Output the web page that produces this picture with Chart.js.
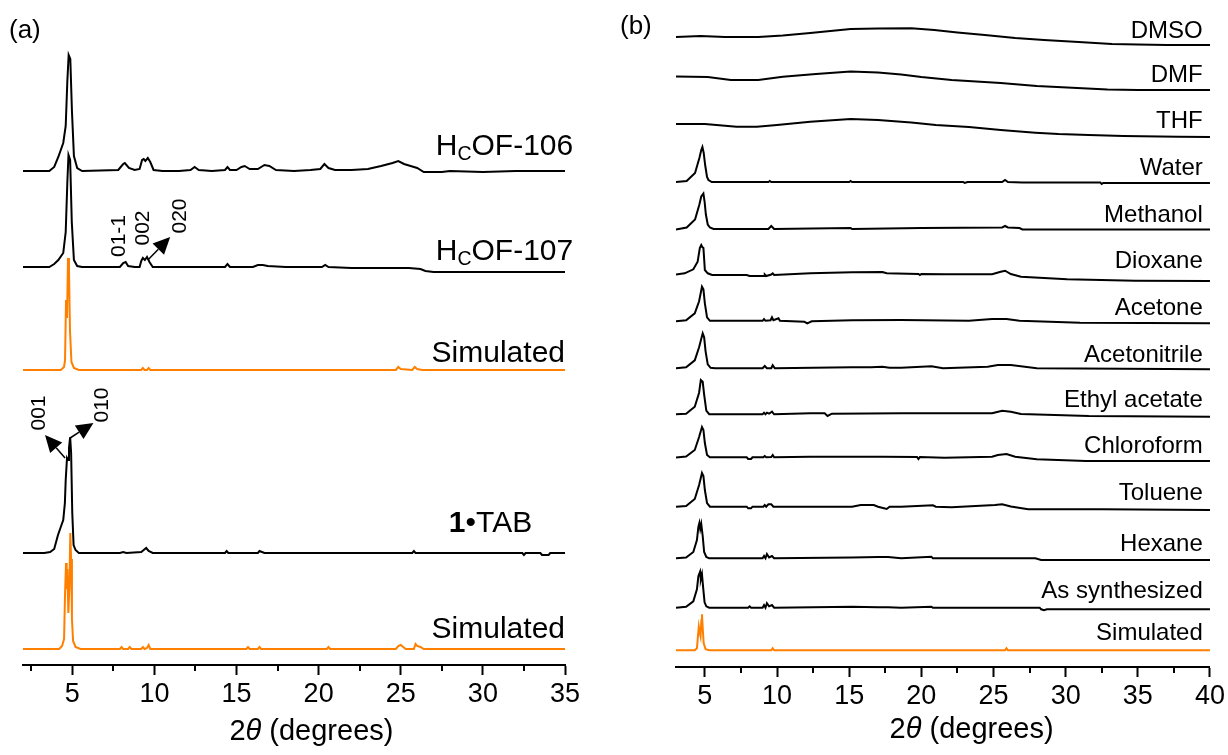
<!DOCTYPE html>
<html>
<head>
<meta charset="utf-8">
<title>PXRD patterns</title>
<script src="https://cdn.jsdelivr.net/npm/chart.js@4.4.1/dist/chart.umd.min.js"></script>
<style>
    body { margin: 0; background: #fff; }
    #wrap { position: relative; width: 1228px; height: 755px; }
    .panel { position: absolute; top: 0; }
    #panelA { left: 0; }
    #panelB { left: 600px; }
</style>
</head>
<body>
<div id="wrap">
    <div class="panel" id="panelA"><canvas id="chartA" width="600" height="755"></canvas></div>
    <div class="panel" id="panelB"><canvas id="chartB" width="628" height="755"></canvas></div>
</div>
<script>
// ---- panel (a): 2theta (deg) / intensity (a.u.) ----
const namesA = ['HCOF-106', 'HCOF-107', 'Simulated', '1•TAB', 'Simulated'];
const colorsA = ['#000', '#000', '#ff8000', '#000', '#ff8000'];
const offsetsA = [494, 393, 295, 112, 16];

const hcof106 = [[2,0],[3.6,0],[3.9,4],[4.15,14],[4.45,28],[4.6,45],[4.7,90],[4.78,116],[4.88,112],[4.98,60],[5.1,15],[5.3,3],[5.6,0],
    [7.8,1],[8.1,7],[8.2,8],[8.45,3],[8.8,1],[9.1,2],[9.25,11],[9.35,12],[9.45,10],[9.6,13],[9.75,9],[9.95,1],[10.5,0],[11.5,0],
    [12.2,1],[12.45,4],[12.7,1],[13.5,0],[14.3,1],[14.45,4],[14.6,1],[15.0,1],[15.3,4],[15.5,5],[15.8,2],[16.3,2],[16.7,6],[17.0,5],
    [17.4,1],[18.5,0],[19.5,1],[20.1,2],[20.35,7],[20.6,3],[21.0,1],[22.0,1],[23.0,2],[23.8,5],[24.5,8],[24.85,10],[25.2,7],[25.6,5],
    [26.0,3],[26.4,-1],[27.5,-1],[28,0],[30,-1],[32,0],[35,0]];
const hcof107 = [[2,5],[3.6,5],[3.9,8],[4.15,12],[4.45,19],[4.6,40],[4.7,90],[4.77,117],[4.87,112],[4.97,50],[5.1,12],[5.3,6],[5.6,5],
    [7.9,5],[8.1,9],[8.25,10],[8.4,6],[8.8,5],[9.1,5],[9.2,11],[9.3,14],[9.42,12],[9.55,15],[9.7,10],[9.9,5],[12,5],[14.3,5],[14.45,8],
    [14.6,5],[16.0,5],[16.3,7],[16.6,7],[16.9,6],[18,5],[20.2,5],[20.4,7],[20.6,5],[22,4],[24,4],[25.5,4],[26.2,3],[26.5,1],[27,0],[35,0]];
const simTop = [[2,0],[4.3,0],[4.5,3],[4.56,10],[4.62,70],[4.68,52],[4.74,112],[4.8,100],[4.86,40],[4.95,8],[5.1,2],[5.4,0],
    [9.2,0],[9.3,2],[9.4,0],[9.55,0],[9.65,2],[9.75,0],[24.7,0],[24.85,3],[25.0,1],[25.7,0],[25.85,3],[26.0,1],[26.3,0],[35,0]];
const tab1 = [[2,0],[3.3,0],[3.65,1],[3.9,4],[4.13,18],[4.3,26],[4.45,33],[4.55,50],[4.6,73],[4.68,95],[4.75,93],[4.8,105],[4.87,116],
    [4.93,100],[5.0,40],[5.08,8],[5.2,3],[5.4,0],[7.9,0],[8.1,1],[8.3,0],[9.2,1],[9.35,3],[9.5,5],[9.65,2],[9.9,0],[14.3,0],[14.4,2],
    [14.5,0],[16.3,0],[16.4,2],[16.55,1],[16.7,0],[25.7,0],[25.8,2],[25.9,0],[32.4,0],[32.5,-2],[32.6,0],[33.5,0],[33.6,-2],[34,-2],[34.1,0],[35,0]];
const simBottom = [[2,0],[4.2,0],[4.38,3],[4.5,10],[4.56,55],[4.62,86],[4.66,60],[4.7,80],[4.76,36],[4.82,60],[4.88,116],[4.93,90],
    [4.98,30],[5.05,8],[5.2,2],[5.5,0],[7.9,0],[8.0,2],[8.1,0],[8.4,0],[8.5,2],[8.6,0],[9.2,0],[9.3,2],[9.4,0],[9.55,1],[9.65,4],[9.75,0],
    [15.6,0],[15.7,2],[15.8,0],[16.3,0],[16.4,2],[16.5,0],[20.5,0],[20.6,2],[20.7,0],[24.7,0],[24.85,3],[25.0,4],[25.15,2],[25.3,0],
    [25.8,0],[25.9,5],[26.0,3],[26.2,2],[26.4,0],[35,0]];
const seriesA = [hcof106, hcof107, simTop, tab1, simBottom];

const majorA = [5, 10, 15, 20, 25, 30, 35];
const minorA = [2.5, 7.5, 12.5, 17.5, 22.5, 27.5, 32.5];

// trace captions (right edge in 2theta, baseline in intensity)
const captionsA = [
    [{ t: 'H' }, { t: 'C', sub: true }, { t: 'OF-106' }],
    [{ t: 'H' }, { t: 'C', sub: true }, { t: 'OF-107' }],
    [{ t: 'Simulated' }],
    [{ t: '1', bold: true }, { t: '•TAB' }],
    [{ t: 'Simulated' }]
];
const captionXA = [35.5, 35.5, 35.0, 33.0, 35.0];
const captionYA = [510, 405, 303, 133, 27];

// Miller indices and their arrows
const hklText = ['01-1', '002', '020', '001', '010'];
const hklX = [7.85, 9.29, 11.57, 2.98, 6.8];
const hklY = [429, 437, 449, 252, 260];
const arrowsA = [
    [[9.6, 405], [10.96, 428]],
    [[4.56, 207], [3.34, 230]],
    [[4.87, 227], [6.29, 242]]
];

// ---- panel (b): stability in solvents ----
const namesB = ['DMSO', 'DMF', 'THF', 'Water', 'Methanol', 'Dioxane', 'Acetone', 'Acetonitrile',
    'Ethyl acetate', 'Chloroform', 'Toluene', 'Hexane', 'As synthesized', 'Simulated'];
const offsetsB = [622, 577, 530, 484, 437.5, 386, 343.7, 297.7, 250.3, 206, 157, 107, 57.7, 16.7];
const captionYB = [629, 585, 539, 492, 445, 399, 352, 305, 260, 214, 167, 116, 69, 27];

const dmso = [[3,8],[4.7,9],[6.4,8],[8.7,8],[10.4,9.5],[12.3,12],[15.1,16],[17,16.5],[19.3,16.7],[20.9,15],[22.5,12.5],[24.4,10],
    [26.5,7],[28.5,5],[30.9,3],[33.2,1],[35,0.5],[37,0],[40,0]];
const dmf = [[3,13.5],[5.2,13],[6.8,10],[8.7,10],[10.4,13.3],[12.7,16],[15.1,18.5],[17,17.5],[18.6,15.5],[20,13],[22.1,10],[25.5,7],
    [28,4],[30.1,2.5],[32.9,0.5],[35,0],[40,0]];
const thf = [[3,13],[5,13],[7.2,10.3],[8.6,10.3],[10,12],[12.3,15.3],[15.1,18],[17,17],[18.6,15.3],[19.3,14.5],[21,12],[23.3,10],
    [25.5,7],[27.9,4.3],[29.5,3],[31.6,2],[34,1],[37.8,0.3],[40,0]];
const water = [[3,1],[3.74,2],[4.32,10],[4.62,25],[4.75,33],[4.83,36],[4.92,30],[5.02,18],[5.15,6],[5.25,3],[5.48,1],[9.4,1],[9.5,2],
    [9.6,1],[15.0,1],[15.1,2],[15.2,1],[22.9,1],[23.0,0],[23.2,1],[25.6,1],[25.8,3],[26.0,1],[27,0.5],[32.4,0.5],[32.5,-1],[32.6,0],[40,0]];
const methanol = [[3,0],[3.74,2],[4.32,10],[4.62,25],[4.75,33],[4.9,36],[4.98,28],[5.07,15],[5.2,5],[5.35,2],[5.6,0.5],[9.4,0.5],
    [9.6,3.5],[9.8,0.5],[15.1,1.5],[15.2,0.5],[20,1.5],[25.6,2],[25.8,3.5],[26.0,2],[26.8,1.5],[27,0],[40,0]];
const dioxane = [[3,6.5],[3.6,7.7],[4.2,11.7],[4.5,19.3],[4.65,33],[4.75,36],[4.82,34],[4.9,33],[5.0,11],[5.2,7.7],[5.5,6],[7.9,6],
    [8.1,5],[9.1,5],[9.15,6.5],[9.25,5],[9.6,6.5],[9.7,7.7],[9.8,6],[12.3,7.7],[15.2,8.7],[17.3,9],[17.6,7.7],[19.8,7],[19.9,6],[20,7],
    [21.6,6.7],[24.9,6.7],[25.5,9.3],[25.8,10.3],[26.2,7],[26.9,4.3],[30.1,1.7],[34.8,0.3],[40,0]];
const acetone = [[3,2],[3.7,3],[4.3,10],[4.6,22],[4.8,36.6],[4.9,34],[5.0,20],[5.15,6],[5.35,2.5],[9.0,2.5],[9.1,4.3],[9.2,2.5],
    [9.55,3],[9.65,6],[9.75,3],[10.1,5],[10.2,2.5],[11.9,1.5],[12.1,0],[12.4,2],[15.2,3],[18.6,3.3],[23.3,2.6],[24.9,4.3],[25.9,4.3],
    [26.8,2.6],[31,0.6],[40,0]];
const acetonitrile = [[3,1],[3.7,2],[4.3,9],[4.6,22],[4.85,36],[4.95,32],[5.05,18],[5.2,5],[5.4,1.5],[5.7,1],[9.0,1],[9.15,3.3],
    [9.3,1],[9.6,1],[9.7,4],[9.85,1],[15.2,2],[16.5,2],[17.3,2.5],[17.8,1.5],[18.6,1.6],[20.7,3],[21.5,1],[24.6,2.6],[25.3,4.3],
    [26.2,4.3],[28,1],[40,0]];
const ethylAcetate = [[3,2.4],[3.7,3],[4.3,10],[4.6,24],[4.72,36.7],[4.85,35],[4.95,22],[5.1,6],[5.3,2.5],[9.0,2.4],[9.1,4],[9.2,2.4],
    [9.3,4],[9.45,3],[9.65,5],[9.8,2.4],[12.3,3.4],[13.3,3.4],[13.5,0.7],[13.8,3],[18.6,3.4],[24.9,3.4],[25.6,6],[26.2,5],[26.9,2.7],
    [31.6,0.7],[40,0]];
const chloroform = [[3,3.5],[3.7,4.5],[4.3,11],[4.6,24],[4.8,34],[4.9,31],[5.0,18],[5.15,6],[5.35,3.7],[7.9,3.7],[8.0,2],[8.2,2],
    [8.3,3.7],[9.05,3.7],[9.15,5],[9.25,3.7],[9.6,4],[9.7,6],[9.8,3.7],[12.3,4.3],[15.2,4.3],[16.5,4.3],[17.3,4.3],[19.7,4],[19.8,2],
    [19.9,4],[21.6,3.3],[24.9,4.3],[25.3,6],[25.9,7],[26.5,4.3],[28,1.7],[31.4,0],[40,0]];
const toluene = [[3,3.3],[3.7,4],[4.3,11],[4.6,25],[4.8,37],[4.9,34],[5.0,20],[5.15,7],[5.35,3.3],[7.9,3.3],[8.0,1.7],[8.2,1.7],
    [8.3,3.3],[9.05,3.3],[9.15,5],[9.25,3.3],[9.4,5.7],[9.6,5.7],[9.75,3.3],[15.2,3.3],[15.8,5],[16.7,5],[17.0,3.3],[17.6,1],[17.8,3.3],
    [18.6,3.3],[20.8,4.7],[21,3.3],[22.1,2.7],[25.1,5],[25.6,5.7],[26.2,3.5],[27.4,0.7],[32.5,0.7],[35,0.5],[40,0]];
const hexane = [[3,1.7],[3.7,2.5],[4.2,8],[4.45,20],[4.55,33],[4.62,37],[4.68,31],[4.75,36],[4.85,24],[4.95,8],[5.1,3],[5.3,1.7],
    [9.0,1.7],[9.1,4],[9.2,1.7],[9.3,6],[9.45,2.5],[9.65,4],[9.8,1.7],[15.2,2.5],[17.0,3],[17.7,3],[18.6,1.7],[20.7,3.3],[20.8,1.7],
    [27.9,1.7],[28.3,0],[40,0]];
const asSynth = [[3,1.6],[3.7,2.5],[4.2,8],[4.45,20],[4.55,33],[4.67,37.6],[4.72,30],[4.8,35],[4.88,22],[4.98,7],[5.1,3],[5.3,1.6],
    [8.0,1.6],[8.1,3],[8.2,1.6],[9.0,1.6],[9.1,4.3],[9.2,1.6],[9.3,6],[9.45,3],[9.65,4.3],[9.8,1.6],[15.2,2.6],[17.0,2],[17.7,2],
    [18.6,1.6],[20.7,2.6],[20.8,1.6],[28.2,1.6],[28.3,0],[28.5,-1],[28.7,0],[40,0]];
const simB = [[3,0],[4.3,0],[4.45,2],[4.52,14],[4.58,23.6],[4.64,18],[4.7,14],[4.76,30],[4.8,36],[4.86,20],[4.92,7],[5.05,1],[5.3,0],
    [9.6,0],[9.7,2],[9.8,0],[25.8,0],[25.9,2],[26.0,0],[40,0]];
const seriesB = [dmso, dmf, thf, water, methanol, dioxane, acetone, acetonitrile, ethylAcetate, chloroform, toluene, hexane, asSynth, simB];

const majorB = [5, 10, 15, 20, 25, 30, 35, 40];
const minorB = [7.5, 12.5, 17.5, 22.5, 27.5, 32.5, 37.5];

const FONT = '"Liberation Sans", Arial, sans-serif';
const axisTitle = [{ t: '2' }, { t: 'θ', italic: true }, { t: ' (degrees)' }];

function runFont(r, size) {
    const s = r.sub ? size * 0.65 : size;
    return (r.italic ? 'italic ' : '') + (r.bold ? 'bold ' : '') + s + 'px ' + FONT;
}

// draw a line of mixed-style text (subscript / bold / italic pieces)
function drawRuns(ctx, runs, x, yBase, size, align) {
    let total = 0;
    runs.forEach(r => { ctx.font = runFont(r, size); total += ctx.measureText(r.t).width; });
    let cx = align === 'right' ? x - total : align === 'center' ? x - total / 2 : x;
    ctx.textAlign = 'left';
    ctx.textBaseline = 'alphabetic';
    ctx.fillStyle = '#000';
    runs.forEach(r => {
        ctx.font = runFont(r, size);
        ctx.fillText(r.t, cx, yBase + (r.sub ? size * 0.17 : 0));
        cx += ctx.measureText(r.t).width;
    });
}

function drawArrow(ctx, x1, y1, x2, y2) {
    const ang = Math.atan2(y2 - y1, x2 - x1);
    const len = 17, half = 8;
    const bx = x2 - len * Math.cos(ang), by = y2 - len * Math.sin(ang);
    ctx.strokeStyle = '#000';
    ctx.lineWidth = 1.5;
    ctx.beginPath();
    ctx.moveTo(x1, y1);
    ctx.lineTo(bx, by);
    ctx.stroke();
    ctx.fillStyle = '#000';
    ctx.beginPath();
    ctx.moveTo(x2, y2);
    ctx.lineTo(bx + half * Math.sin(ang), by - half * Math.cos(ang));
    ctx.lineTo(bx - half * Math.sin(ang), by + half * Math.cos(ang));
    ctx.closePath();
    ctx.fill();
}

const decorPlugin = {
    id: 'decor',
    afterDraw(chart, args, o) {
        const { ctx } = chart;
        const x = chart.scales.x, y = chart.scales.y;
        ctx.save();

        // short minor ticks
        ctx.strokeStyle = '#000';
        ctx.lineWidth = 2;
        o.minor.forEach(v => {
            const px = Math.round(x.getPixelForValue(v));
            ctx.beginPath();
            ctx.moveTo(px, x.top);
            ctx.lineTo(px, x.top + 6);
            ctx.stroke();
        });

        // trace captions
        o.captions.forEach((runs, i) => {
            drawRuns(ctx, runs, x.getPixelForValue(o.capX[i]), y.getPixelForValue(o.capY[i]), o.capSize, 'right');
        });

        // rotated hkl indices
        (o.hkl || []).forEach((t, i) => {
            ctx.save();
            ctx.translate(x.getPixelForValue(o.hklX[i]), y.getPixelForValue(o.hklY[i]));
            ctx.rotate(-Math.PI / 2);
            ctx.font = '21px ' + FONT;
            ctx.textAlign = 'center';
            ctx.textBaseline = 'middle';
            ctx.fillStyle = '#000';
            ctx.fillText(t, 0, 0);
            ctx.restore();
        });
        (o.arrows || []).forEach(a => {
            drawArrow(ctx, x.getPixelForValue(a[0][0]), y.getPixelForValue(a[0][1]),
                x.getPixelForValue(a[1][0]), y.getPixelForValue(a[1][1]));
        });

        // axis title and panel letter
        drawRuns(ctx, axisTitle, x.getPixelForValue(o.titleX), o.titleY, 29, 'center');
        drawRuns(ctx, [{ t: o.letter }], o.letterX, o.letterY, 26, 'left');
        ctx.restore();
    }
};

function makeDatasets(names, series, offsets, colors) {
    return series.map((pts, i) => ({
        label: names[i],
        data: pts.map(p => ({ x: p[0], y: p[1] + offsets[i] })),
        borderColor: colors[i],
        borderWidth: 2,
        pointRadius: 0,
        fill: false,
        tension: 0
    }));
}

function makeChart(id, cfg) {
    const majors = cfg.major;
    return new Chart(document.getElementById(id), {
        type: 'line',
        data: { datasets: cfg.datasets },
        plugins: [decorPlugin],
        options: {
            responsive: false,
            animation: false,
            layout: { padding: cfg.padding },
            plugins: {
                legend: { display: false },
                tooltip: { enabled: false },
                decor: cfg.decor
            },
            scales: {
                x: {
                    type: 'linear',
                    min: cfg.xMin,
                    max: cfg.xMax,
                    afterBuildTicks: axis => {
                        axis.ticks = majors.concat(cfg.decor.minor).sort((a, b) => a - b).map(v => ({ value: v }));
                    },
                    afterFit: axis => { axis.height = cfg.axisHeight; },
                    ticks: {
                        autoSkip: false,
                        maxRotation: 0,
                        padding: 3,
                        color: '#000',
                        font: { family: FONT, size: 27 },
                        callback: v => majors.includes(v) ? String(v) : ''
                    },
                    grid: {
                        drawOnChartArea: false,
                        drawTicks: true,
                        tickLength: 10,
                        tickWidth: 2,
                        tickColor: c => majors.includes(c.tick.value) ? '#000' : 'rgba(0,0,0,0)'
                    },
                    border: { display: true, color: '#000', width: 2 }
                },
                y: {
                    display: false,
                    min: 0,
                    max: cfg.yMax
                }
            }
        }
    });
}

makeChart('chartA', {
    datasets: makeDatasets(namesA, seriesA, offsetsA, colorsA),
    major: majorA,
    xMin: 2, xMax: 35, yMax: 655,
    axisHeight: 90,
    padding: { left: 23, right: 35, top: 10, bottom: 0 },
    decor: {
        minor: minorA,
        captions: captionsA, capX: captionXA, capY: captionYA, capSize: 30,
        hkl: hklText, hklX: hklX, hklY: hklY, arrows: arrowsA,
        titleX: 19.56, titleY: 740,
        letter: '(a)', letterX: 9, letterY: 38
    }
});

makeChart('chartB', {
    datasets: makeDatasets(namesB, seriesB, offsetsB, namesB.map((n, i) => i === namesB.length - 1 ? '#ff8000' : '#000')),
    major: majorB,
    xMin: 3, xMax: 40, yMax: 657,
    axisHeight: 88,
    padding: { left: 76, right: 18, top: 10, bottom: 0 },
    decor: {
        minor: minorB,
        captions: namesB.map(n => [{ t: n }]), capX: namesB.map(() => 39.5), capY: captionYB, capSize: 24,
        titleX: 23.48, titleY: 738,
        letter: '(b)', letterX: 20, letterY: 34
    }
});
</script>
</body>
</html>
